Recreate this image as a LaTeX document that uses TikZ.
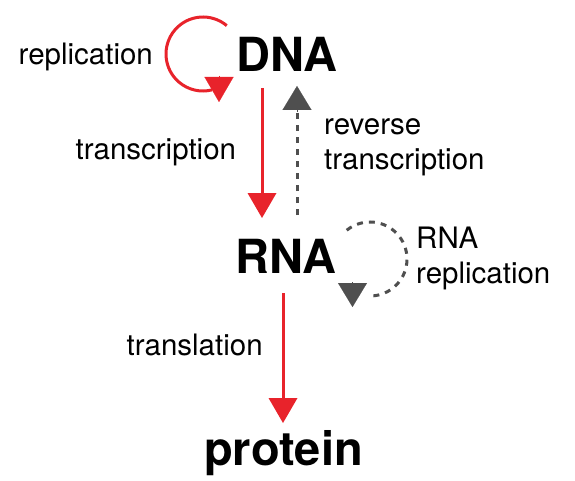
\documentclass[tikz,border=0pt]{standalone}
\usepackage{fontspec}
\setmainfont{TeX Gyre Heros}
\usetikzlibrary{arrows.meta,calc}
\definecolor{cdred}{HTML}{E8232B}
\definecolor{cdgray}{HTML}{4F4F4F}
\begin{document}
\begin{tikzpicture}[x=1pt,y=-1pt,
  big/.style={font=\fontsize{47}{50}\selectfont\bfseries, inner sep=0pt, anchor=base west},
  lbl/.style={font=\fontsize{29.5}{35}\selectfont, inner sep=0pt, anchor=base west, align=left},
  redline/.style={draw=cdred, line width=3pt},
  grayline/.style={draw=cdgray, line width=3pt, dash pattern=on 6pt off 6pt},
  redhead/.style={-{Triangle[width=29pt,length=25pt]}, draw=cdred, fill=cdred, line width=0.1pt},
  grayhead/.style={-{Triangle[width=29pt,length=24pt]}, draw=cdgray, fill=cdgray, line width=0.1pt},
  redarrow/.style={redline, -{Triangle[width=29pt,length=25pt,line width=0pt]}, fill=cdred}]
\useasboundingbox (0,0) rectangle (575,481);

% main nodes
\node[big] (DNA) at (236,72) {DNA};
\node[big] (RNA) at (235,273) {RNA};
\node[big] (protein) at (204,465) {protein};

% labels
\node[lbl] (lrep) at (18.5,65) {replication};
\node[lbl] (ltrans) at (75.5,160) {transcription};
\node[lbl] (lrev) at (324,170) {reverse\\transcription};
\node[lbl] (lrnarep) at (416,283) {RNA\\replication};
\node[lbl] (ltransl) at (126.5,355) {translation};

% anchor coordinates for connectors
\coordinate (tA) at (262,88);
\coordinate (tB) at (262,218);
\coordinate (rA) at (297,215);
\coordinate (rB) at (297,86);
\coordinate (pA) at (283,293);
\coordinate (pB) at (283,423);
\coordinate (loop1) at (203,54);
\coordinate (loop2) at (370,259);

% transcription
\draw[redarrow] (tA) -- (tB);
% reverse transcription
\draw[grayline] (rA) -- ($(rB)+(0,24)$);
\path[grayhead] ($(rB)+(0,26)$) -- (rB);
% translation
\draw[redarrow] (pA) -- (pB);

% DNA replication loop
\draw[redline] ($(loop1)+(-50:37)$) arc[start angle=-50, end angle=-284, radius=37];
\path[redhead] (219,76) -- (219,102);

% RNA replication loop
\draw[grayline] ($(loop2)+(-129:37)$) arc[start angle=-129, end angle=93, radius=37];
\path[grayhead] (352.5,282) -- (352.5,307);
\end{tikzpicture}
\end{document}
